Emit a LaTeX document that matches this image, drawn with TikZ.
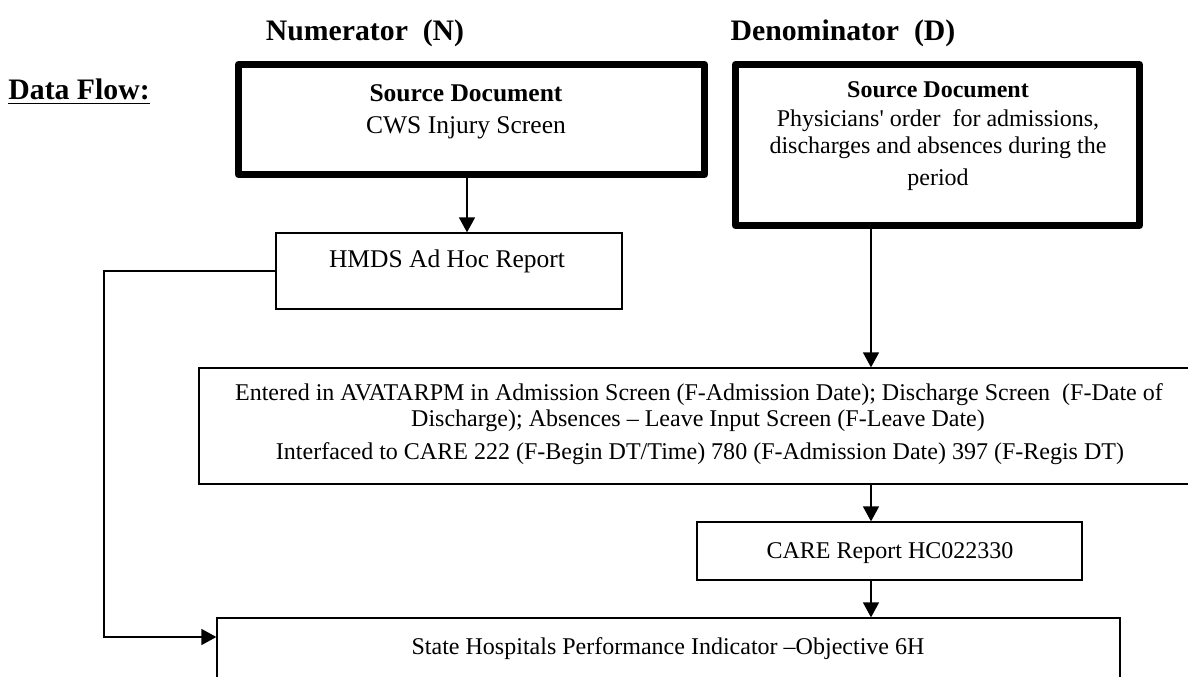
\documentclass[tikz,border=0pt]{standalone}
\usepackage{fontspec}
\setmainfont{Liberation Serif}
\usetikzlibrary{arrows.meta,fit,positioning}

\begin{document}
\begin{tikzpicture}[
    x=0.4706pt,y=-0.4706pt,
    font=\fontsize{12}{14}\selectfont,
    heavy/.style={draw,line width=3.3pt,line join=round,inner sep=0pt},
    plain/.style={draw,line width=0.6pt,inner sep=0pt},
    txt/.style={anchor=base,inner sep=0pt},
    sml/.style={txt,font=\fontsize{11.3}{13}\selectfont},
    hdr/.style={anchor=base,inner sep=0pt,font=\fontsize{14}{16}\selectfont\bfseries},
    arr/.style={-{Triangle[length=7pt,width=7.5pt]},line width=0.6pt},
  ]
  \useasboundingbox (0,0) rectangle (1188,677);
  % headings
  \node[hdr] (num) at (365,41) {Numerator\ \ (N)};
  \node[hdr] (den) at (843,41) {Denominator\ \ (D)};
  \node[hdr,anchor=base west] (flow) at (8,100) {\underline{Data Flow:}};

  % boxes
  \node[heavy,fit={(238.5,64.5) (704.5,174.5)}] (srcN) {};
  \node[heavy,fit={(735.5,64.5) (1139.5,225.5)}] (srcD) {};
  \node[plain,fit={(276,233) (622,309)}] (hmds) {};
  \node[plain,fit={(199,368) (1201,484)}] (entry) {};
  \node[plain,fit={(697,522) (1082,580)}] (care) {};
  \node[plain,fit={(217,618) (1120,720)}] (state) {};

  % texts
  \node[txt] (srcNhead) at (466,102) {\textbf{Source Document}};
  \node[txt] (srcNbody) at (466,134) {CWS Injury Screen};
  \node[txt] (hmdsText) at (447,268) {HMDS Ad Hoc Report};
  \node[sml] (srcDhead) at (938,98) {\textbf{Source Document}};
  \node[sml] (srcDl1) at (938,127) {Physicians\textquotesingle\ order\ \ for admissions,};
  \node[sml] (srcDl2) at (938,154) {discharges and absences during the};
  \node[sml] (srcDl3) at (938,186) {period};
  \node[sml] (entryL1) at (699,401) {Entered in AVATARPM in Admission Screen (F-Admission Date); Discharge Screen\ \ (F-Date of};
  \node[sml] (entryL2) at (698,427) {Discharge); Absences \textendash\ Leave Input Screen (F-Leave Date)};
  \node[sml] (entryL3) at (700,460) {Interfaced to CARE 222 (F-Begin DT/Time) 780 (F-Admission Date) 397 (F-Regis DT)};
  \node[sml] (careText) at (890,558) {CARE Report HC022330};
  \node[sml] (stateText) at (668,654) {State Hospitals Performance Indicator \textendash Objective 6H};

  % connectors
  \coordinate (nx) at (467,0);
  \coordinate (dx) at (871,0);
  \coordinate (loop) at (104,637);
  \draw[arr] (srcN.south -| nx) -- (hmds.north -| nx);
  \draw[arr] (srcD.south -| dx) -- (entry.north -| dx);
  \draw[arr] (entry.south -| dx) -- (care.north -| dx);
  \draw[arr] (care.south -| dx) -- (state.north -| dx);
  \draw[arr] (hmds.west) -| (loop) -- (loop -| state.west);
\end{tikzpicture}
\end{document}
